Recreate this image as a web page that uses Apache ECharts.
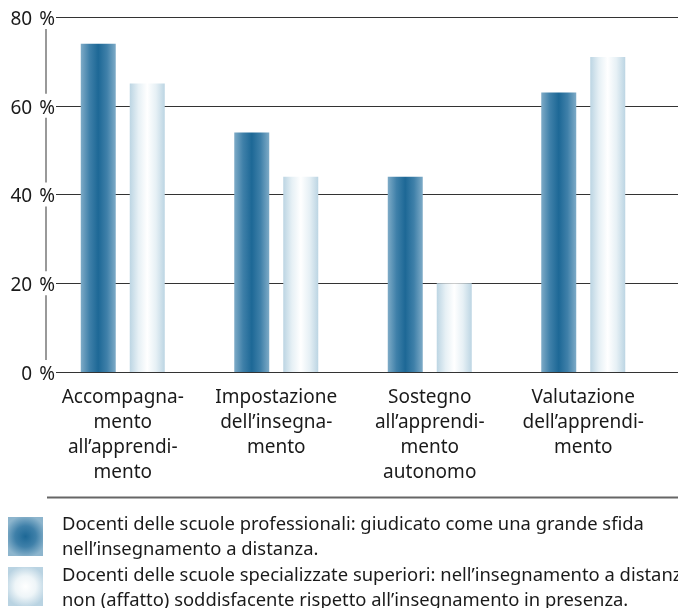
<!DOCTYPE html>
<html>
<head>
<meta charset="utf-8">
<script src="https://cdn.jsdelivr.net/npm/echarts@6/dist/echarts.min.js"></script>
<style>
html,body{margin:0;padding:0;background:#fff;}
#c{width:678px;height:608px;}
</style>
</head>
<body>
<div id="c"></div>
<script>
const categories = [
  "Accompagna-\nmento\nall’apprendi-\nmento",
  "Impostazione\ndell’insegna-\nmento",
  "Sostegno\nall’apprendi-\nmento\nautonomo",
  "Valutazione\ndell’apprendi-\nmento"
];
const seriesProfessionali = [74, 54, 44, 63];
const seriesSpecializzate = [65, 44, 20, 71];
const legendTexts = [
  "Docenti delle scuole professionali: giudicato come una grande sfida\nnell’insegnamento a distanza.",
  "Docenti delle scuole specializzate superiori: nell’insegnamento a distanza\nnon (affatto) soddisfacente rispetto all’insegnamento in presenza."
];
const yTicks = {min: 0, max: 80, interval: 20};

const FONT = "Noto Sans";
const darkGrad = {type:'linear',x:0,y:0,x2:1,y2:0,colorStops:[
  {offset:0,color:'#7eabc7'},{offset:0.25,color:'#3f80a9'},{offset:0.5,color:'#1d6896'},
  {offset:0.75,color:'#3f80a9'},{offset:1,color:'#7eabc7'}]};
const lightGrad = {type:'linear',x:0,y:0,x2:1,y2:0,colorStops:[
  {offset:0,color:'#bcd5e3'},{offset:0.25,color:'#e6f0f5'},{offset:0.5,color:'#ffffff'},
  {offset:0.75,color:'#e6f0f5'},{offset:1,color:'#bcd5e3'}]};
const darkSq = {type:'radial',x:0.5,y:0.5,r:0.6,colorStops:[
  {offset:0,color:'#1d6896'},{offset:0.5,color:'#3f80a9'},{offset:1,color:'#8db5cd'}]};
const lightSq = {type:'radial',x:0.5,y:0.5,r:0.6,colorStops:[
  {offset:0,color:'#ffffff'},{offset:0.5,color:'#eef5f8'},{offset:1,color:'#b9d3e2'}]};

const chart = echarts.init(document.getElementById('c'));
chart.setOption({
  animation: false,
  backgroundColor: '#fff',
  textStyle: {fontFamily: FONT},
  grid: [
    {left: 46, right: 18, top: 17, bottom: 236},
    {left: 56, right: 0, top: 17, bottom: 236}
  ],
  xAxis: [
    {type:'category', gridIndex:0, data: categories,
     axisLine:{show:false}, axisTick:{show:false},
     axisLabel:{fontFamily:FONT, fontSize:19, lineHeight:25, color:'#1a1a1a', margin:13, interval:0}},
    {type:'value', gridIndex:1, show:false, min:0, max:1}
  ],
  yAxis: [
    {type:'value', gridIndex:0, min:yTicks.min, max:yTicks.max, interval:yTicks.interval,
     axisLine:{show:true, lineStyle:{color:'#777', width:1.5}},
     axisTick:{show:false}, splitLine:{show:false},
     axisLabel:{margin:-9, formatter: v => '{n|' + v + '}{p|%}',
       rich:{
         n:{fontFamily:FONT, fontSize:19, color:'#1a1a1a', lineHeight:20, padding:[5,0,0,0]},
         p:{fontFamily:FONT, fontSize:19, color:'#1a1a1a', lineHeight:20, backgroundColor:'#fff', padding:[5,0,0,7]}
       }}},
    {type:'value', gridIndex:1, min:yTicks.min, max:yTicks.max, interval:yTicks.interval,
     axisLine:{show:false}, axisTick:{show:false}, axisLabel:{show:false},
     splitLine:{show:true, lineStyle:{color:'#333', width:1}}}
  ],
  series: [
    {type:'bar', xAxisIndex:0, yAxisIndex:0, data: seriesProfessionali, barWidth:35, barGap:'40%',
     itemStyle:{color: darkGrad}, z:3},
    {type:'bar', xAxisIndex:0, yAxisIndex:0, data: seriesSpecializzate, barWidth:35, barGap:'40%',
     itemStyle:{color: lightGrad}, z:3}
  ],
  graphic: [
    {type:'line', shape:{x1:47, y1:497.5, x2:678, y2:497.5}, style:{stroke:'#666', lineWidth:2}},
    {type:'rect', shape:{x:8, y:517, width:35, height:39}, style:{fill: darkSq}},
    {type:'rect', shape:{x:8, y:567, width:35, height:39}, style:{fill: lightSq}},
    {type:'text', left:62, top:512, style:{text: legendTexts[0], font:'18.4px "Noto Sans"', fill:'#1a1a1a', lineHeight:25}},
    {type:'text', left:62, top:563, style:{text: legendTexts[1], font:'18.4px "Noto Sans"', fill:'#1a1a1a', lineHeight:25}}
  ]
});
</script>
</body>
</html>
